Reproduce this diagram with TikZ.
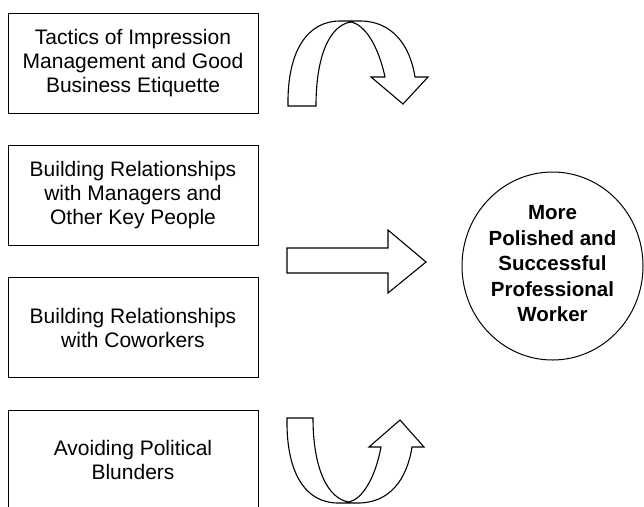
\documentclass[tikz,border=0pt]{standalone}
\usepackage{fontspec}
\setmainfont{Liberation Sans}
\usetikzlibrary{shapes.geometric}
\begin{document}
\begin{tikzpicture}[x=1pt,y=-1pt,
  factor/.style={draw,line width=1pt,minimum width=250pt,minimum height=100pt,
    align=center,inner sep=0pt,font=\fontsize{21}{24}\selectfont},
  goal/.style={draw,ellipse,line width=1pt,minimum width=181pt,minimum height=188pt,inner sep=0pt},
  goaltext/.style={align=center,font=\fontsize{20.5}{25.5}\selectfont\bfseries},
  blockarrow/.style={draw,line width=1.1pt,line join=miter,fill=white}]
\useasboundingbox (0,0) rectangle (644,506);

% the four contributing factors
\node[factor] (tactics)   at (133,63)    {Tactics of Impression\\Management and Good\\Business Etiquette};
\node[factor] (managers)  at (133,195)   {Building Relationships\\with Managers and\\Other Key People};
\node[factor] (coworkers) at (133,327.5) {Building Relationships\\with Coworkers};
\node[factor] (blunders)  at (133,460)   {Avoiding Political\\Blunders};

% the outcome
\node[goal] (goal) at (552.5,266) {};
\node[goaltext] (goallabel) at (552.5,264) {More\\Polished and\\Successful\\Professional\\Worker};

% curved arrow bending over the top
\draw[blockarrow] (288,106) .. controls (287,50) and (308,21) .. (340,21)
  -- (360,21) .. controls (392,21) and (410,45) .. (415,77)
  -- (428,77) -- (403,104) -- (371,77) -- (385,77)
  .. controls (378,45) and (365,25) .. (351,22)
  .. controls (330,25) and (316,55) .. (316,106) -- cycle;

% straight arrow towards the outcome
\draw[blockarrow] (287,248) -- (388,248) -- (388,230) -- (426,262)
  -- (388,293) -- (388,273) -- (287,273) -- cycle;

% curved arrow swinging under the bottom
\draw[blockarrow] (287,418) .. controls (286,474) and (306,503) .. (338,503)
  -- (358,503) .. controls (390,503) and (407,479) .. (412,447)
  -- (424,447) -- (400,420) -- (369,447) -- (381,447)
  .. controls (375,479) and (362,499) .. (349,502)
  .. controls (328,499) and (313,469) .. (313,418) -- cycle;
\end{tikzpicture}
\end{document}
